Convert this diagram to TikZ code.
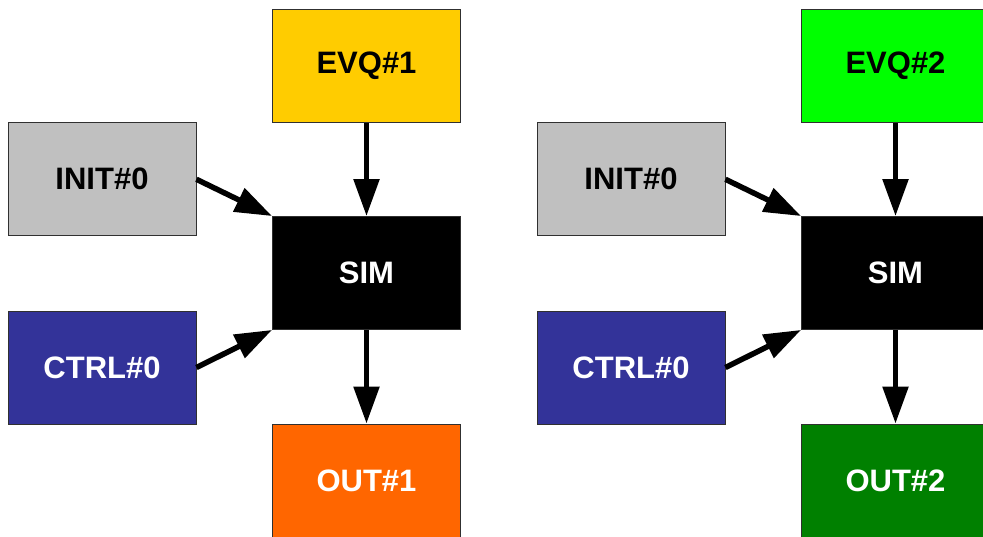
\documentclass[tikz,border=0pt]{standalone}
\usepackage{fontspec}
\setmainfont{Liberation Sans}
\usetikzlibrary{arrows.meta}
\definecolor{evqone}{HTML}{FFCC00}
\definecolor{evqtwo}{HTML}{00FF00}
\definecolor{initc}{HTML}{C0C0C0}
\definecolor{ctrlc}{HTML}{333399}
\definecolor{outone}{HTML}{FF6600}
\definecolor{outtwo}{HTML}{008000}
\definecolor{edgec}{HTML}{303030}
\tikzset{
  box/.style={draw=edgec, line width=0.9pt, minimum width=188pt, minimum height=113pt, inner sep=0pt,
    font=\fontsize{31}{31}\selectfont\bfseries},
  flow/.style={line width=5.5pt, -{Triangle[length=37pt,width=25pt]}, shorten >=0pt}
}
\begin{document}
\begin{tikzpicture}[x=1pt,y=-1pt]
\useasboundingbox (0,0) rectangle (983,536);
\clip (0,0) rectangle (983,536);
% left group
\node[box, fill=evqone, text=black] (evqA) at (366.5,66) {EVQ\#1};
\node[box, fill=initc, text=black] (initA) at (102,179.3) {INIT\#0};
\node[box, fill=black, text=white] (simA) at (366.5,273) {SIM};
\node[box, fill=ctrlc, text=white] (ctrlA) at (102,367.5) {CTRL\#0};
\node[box, fill=outone, text=white] (outA) at (366.5,480.5) {OUT\#1};
\draw[flow] (evqA.south) -- (simA.north);
\draw[flow] (simA.south) -- (outA.north);
\draw[flow] (initA.east) -- (simA.north west);
\draw[flow] (ctrlA.east) -- (simA.south west);
% right group
\node[box, fill=evqtwo, text=black] (evqB) at (895.5,66) {EVQ\#2};
\node[box, fill=initc, text=black] (initB) at (631,179.3) {INIT\#0};
\node[box, fill=black, text=white] (simB) at (895.5,273) {SIM};
\node[box, fill=ctrlc, text=white] (ctrlB) at (631,367.5) {CTRL\#0};
\node[box, fill=outtwo, text=white] (outB) at (895.5,480.5) {OUT\#2};
\draw[flow] (evqB.south) -- (simB.north);
\draw[flow] (simB.south) -- (outB.north);
\draw[flow] (initB.east) -- (simB.north west);
\draw[flow] (ctrlB.east) -- (simB.south west);
\end{tikzpicture}
\end{document}
